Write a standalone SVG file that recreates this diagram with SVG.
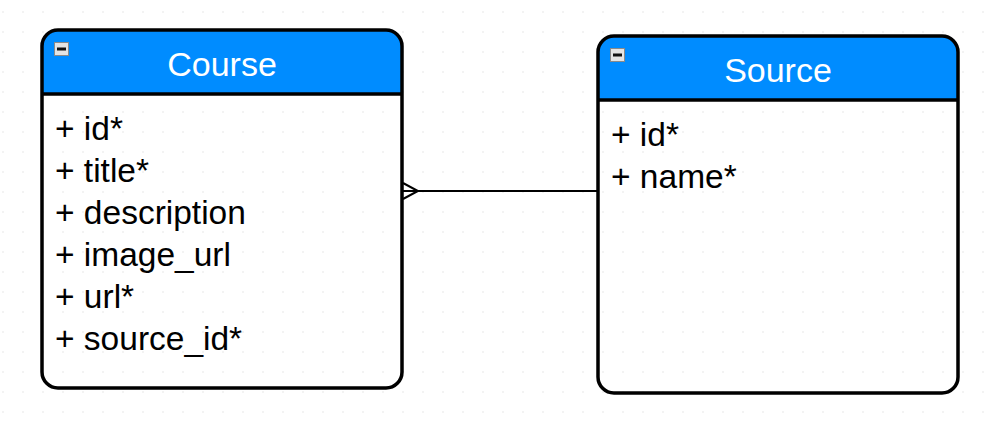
<svg xmlns="http://www.w3.org/2000/svg" width="994" height="428" viewBox="0 0 994 428">
<defs>
<pattern id="grid" x="0" y="0" width="20" height="20" patternUnits="userSpaceOnUse">
<rect x="2.5" y="11.5" width="1" height="1" fill="#d0d0d0"/>
</pattern>
<style>
.box{fill:none;stroke:#000;stroke-width:3.5}
.head{fill:#008cff}
.title{font-family:"Liberation Sans",Arial,sans-serif;font-size:34px;fill:#fff;text-anchor:middle}
.attr{font-family:"Liberation Sans",Arial,sans-serif;font-size:33.5px;fill:#000}
.icon{fill:#e4e4e4;stroke:#8a8a8a;stroke-width:1}
.conn{fill:none;stroke:#000;stroke-width:2}
</style>
</defs>
<rect width="994" height="428" fill="#fff"/>
<rect width="994" height="428" fill="url(#grid)"/>
<g id="course">
<path class="head" d="M42,94 V46 Q42,30 58,30 H386 Q402,30 402,46 V94 Z"/>
<rect class="box" x="42" y="30" width="360" height="358" rx="16" ry="16"/>
<line x1="42" y1="94" x2="402" y2="94" stroke="#000" stroke-width="3.5"/>
<rect class="icon" x="54.5" y="42.5" width="14" height="13"/>
<rect x="57" y="47.5" width="9" height="3" fill="#111"/>
<text class="title" x="222" y="76">Course</text>
<text class="attr" x="55" y="140">+ id*</text>
<text class="attr" x="55" y="182">+ title*</text>
<text class="attr" x="55" y="224">+ description</text>
<text class="attr" x="55" y="266">+ image_url</text>
<text class="attr" x="55" y="308">+ url*</text>
<text class="attr" x="55" y="350">+ source_id*</text>
</g>
<g id="source">
<path class="head" d="M598,100 V52 Q598,36 614,36 H942 Q958,36 958,52 V100 Z"/>
<rect class="box" x="598" y="36" width="360" height="357" rx="16" ry="16"/>
<line x1="598" y1="100" x2="958" y2="100" stroke="#000" stroke-width="3.5"/>
<rect class="icon" x="610.5" y="48.5" width="14" height="13"/>
<rect x="613" y="53.5" width="9" height="3" fill="#111"/>
<text class="title" x="778" y="82">Source</text>
<text class="attr" x="611" y="146">+ id*</text>
<text class="attr" x="611" y="188">+ name*</text>
</g>
<g id="connectors">
<line class="conn" x1="403" y1="191" x2="598" y2="191"/>
<polyline class="conn" points="403,183 418,191 403,199"/>
</g>
</svg>
